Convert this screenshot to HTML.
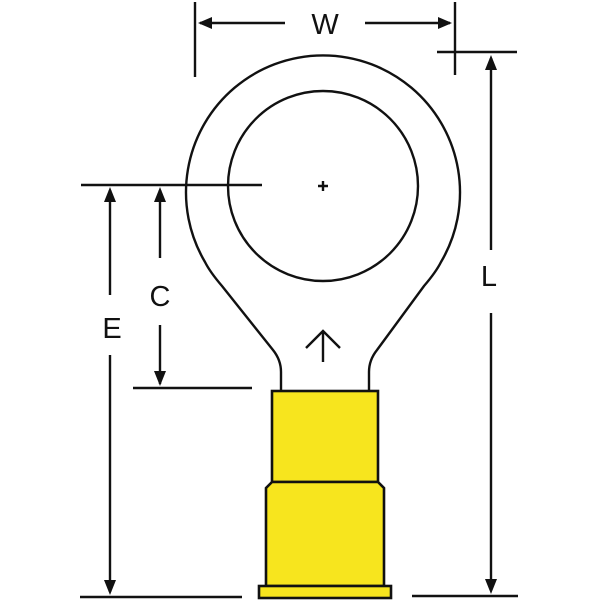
<!DOCTYPE html>
<html><head><style>body{margin:0;background:#fff}svg{display:block}</style></head><body>
<svg width="600" height="600" viewBox="0 0 600 600" xmlns="http://www.w3.org/2000/svg">
<g stroke="#111" stroke-width="2.4" fill="none">
<!-- ring outline -->
<path d="M281,392 L281,372 Q281,360 273,350 L222,286 Q210,272 205,262 A137,137 0 1 1 441,262 Q436,272 424,286 L377,350 Q369,360 369,372 L369,392"/>
<circle cx="323" cy="186" r="95"/>
<path d="M318,186h10M323,181v10"/>
<path d="M323,362V332M306,348L323,331L340,348"/>
<!-- yellow body -->
<rect x="272" y="391" width="106" height="91" fill="#f7e51e" stroke-width="2.6"/>
<path d="M266,586 L266,488 L272,482 L378,482 L384,488 L384,586 Z" fill="#f7e51e" stroke-width="2.6"/>
<rect x="259" y="586" width="132" height="12" fill="#f7e51e" stroke-width="2.6"/>
<!-- W -->
<path d="M195,2V77M455,2V75M200,23H285M365,23H450"/>
<!-- L -->
<path d="M437,52H517M491,58V250M491,313V590M412,596H518"/>
<!-- E / C -->
<path d="M81,185H262M133,388H252M80,597H242M110,190V295M110,355V592M160,190V258M160,325V384"/>
</g>
<g fill="#111">
<path d="M198,23L212,17L212,29Z"/><path d="M452,23L438,17L438,29Z"/>
<path d="M491,55L485,70L497,70Z"/><path d="M491,594L485,579L497,579Z"/>
<path d="M110,187L104,202L116,202Z"/><path d="M110,595L104,580L116,580Z"/>
<path d="M160,187L154,202L166,202Z"/><path d="M160,386L154,371L166,371Z"/>
</g>
<g font-family="Liberation Sans, sans-serif" font-size="29" fill="#111" text-anchor="middle">
<text x="325" y="34">W</text>
<text x="489" y="286">L</text>
<text x="112" y="338">E</text>
<text x="160" y="306">C</text>
</g>
</svg>
</body></html>
